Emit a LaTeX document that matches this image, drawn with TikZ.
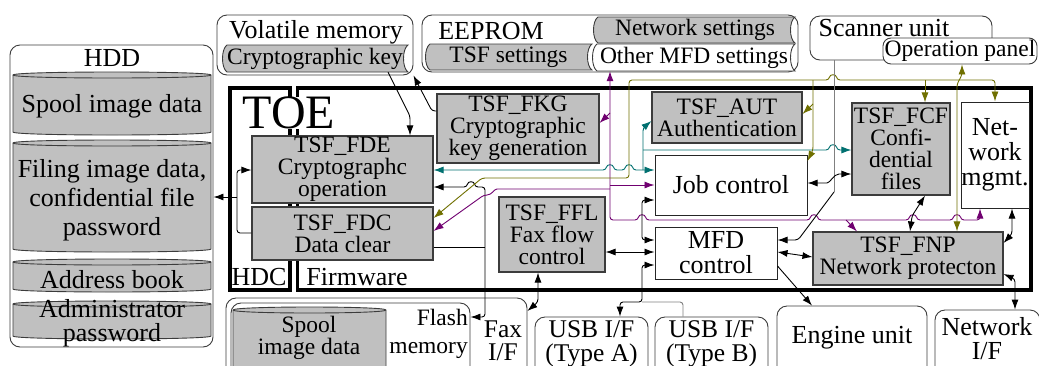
\documentclass[tikz,border=0pt]{standalone}
\usepackage{fontspec}
\setmainfont{Liberation Serif}
\usetikzlibrary{arrows.meta}
\definecolor{gfill}{RGB}{192,192,192}
\definecolor{tealc}{RGB}{0,112,112}
\definecolor{olivec}{RGB}{112,112,0}
\definecolor{purplec}{RGB}{112,0,112}
\definecolor{grayc}{RGB}{128,128,128}
\definecolor{edgec}{RGB}{60,60,60}
\newcommand\cylpath[4]{%
  \filldraw[draw=edgec, line width=0.9pt, fill=gfill] (#1,#2) .. controls (#1,#2-4) and (#3,#2-4) .. (#3,#2) -- (#3,#4) .. controls (#3,#4+4) and (#1,#4+4) .. (#1,#4) -- cycle;
  \draw[edgec, line width=0.9pt] (#1,#2) .. controls (#1,#2+4) and (#3,#2+4) .. (#3,#2);}
\newcommand\stpath[5]{%
  \filldraw[draw=edgec, line width=0.9pt, fill=#5] (#1+5,#2) -- (#3,#2) .. controls (#3-6,#2+4) and (#3-6,#4-4) .. (#3,#4) -- (#1+5,#4) .. controls (#1-1,#4-4) and (#1-1,#2+4) .. (#1+5,#2) -- cycle;}
\begin{document}
\begin{tikzpicture}[x=1pt,y=-1pt,
  fA/.style={font=\fontsize{26}{25}\selectfont},
  fB/.style={font=\fontsize{23.5}{22}\selectfont},
  gbox/.style={draw=edgec, line width=1.1pt, fill=gfill, align=center, inner sep=0pt, fB},
  wbox/.style={draw=black!85, line width=1pt, fill=white, align=center, inner sep=0pt, fA},
  rbox/.style={draw=edgec, line width=0.9pt, rounded corners=10pt, fill=white, inner sep=0pt},
  cont/.style={draw=black, line width=3.6pt, inner sep=0pt},
  lbl/.style={inner sep=0pt, align=center},
  conn/.style={line width=0.9pt, rounded corners=3pt},
  arw/.style={-{Latex[length=10pt,width=7pt]}},
  darw/.style={{Latex[length=10pt,width=7pt]}-{Latex[length=10pt,width=7pt]}}
]
\useasboundingbox (0,0) rectangle (1039,365);
\clip (0,0) rectangle (1039,365);
\fill[white] (0,0) rectangle (1039,365);

% ---- HDD ----
\node[rbox, minimum width=203pt, minimum height=302pt] (HDD) at (111.5,196) {};
\node[lbl,fA] (HDDt) at (112,58) {HDD};
\cylpath{13}{75}{211}{132}
\node[lbl,fA] (c1) at (112,106) {Spool image data};
\cylpath{13}{143}{211}{249}
\node[lbl,font=\fontsize{26}{29}\selectfont] (c2) at (112,200) {Filing image data,\\confidential file\\password};
\cylpath{13}{262}{211}{289}
\node[lbl,fA] (c3) at (112,280) {Address book};
\cylpath{13}{304}{211}{336}
\node[lbl,font=\fontsize{26}{24}\selectfont] (c4) at (112,323) {Administrator\\password};

% ---- Volatile memory ----
\node[rbox, minimum width=196pt, minimum height=60pt] (VM) at (315,45) {};
\node[lbl,fA] (VMt) at (316,32) {Volatile memory};
\stpath{222}{45}{408}{72}{gfill}
\node[lbl,fB,minimum width=186pt,minimum height=27pt] (key) at (315,58.5) {Cryptographic key};

% ---- EEPROM ----
\node[rbox, minimum width=376pt, minimum height=57pt] (EEP) at (610,43.5) {};
\node[lbl,fA] (EEPt) at (491,31) {EEPROM};
\stpath{425}{44}{592}{70}{gfill}
\node[lbl,fB,minimum width=167pt,minimum height=26pt] (TSFs) at (508.5,57) {TSF settings};
\stpath{593}{17}{795}{43}{gfill}
\node[lbl,fB,minimum width=202pt,minimum height=26pt] (NWs) at (695,30) {Network settings};
\stpath{592}{44}{795}{71}{white}
\node[lbl,fB,minimum width=203pt,minimum height=27pt] (OMFD) at (694,57.5) {Other MFD settings};

% ---- Scanner / operation panel ----
\node[rbox, minimum width=182pt, minimum height=44pt] (SU) at (901,38) {};
\node[lbl,fA] (SUt) at (884,28) {Scanner unit};
\node[rbox, rounded corners=8pt, minimum width=154pt, minimum height=26pt, fB] (OP) at (960,51) {Operation panel};

% ---- TOE containers ----
\node[cont, minimum width=60pt, minimum height=202pt] (HDC) at (260,189) {};
\node[cont, minimum width=733.5pt, minimum height=202pt] (FW) at (664.25,189) {};
\node[lbl,fill=white,font=\fontsize{48}{48}\selectfont] (TOE) at (289,113) {TOE};
\node[lbl,fA] (HDCt) at (259,277) {HDC};
\node[lbl,fA] (FWt) at (357,277) {Firmware};

% ---- function boxes ----
\node[gbox, minimum width=181pt, minimum height=67pt] (FDE) at (342.5,169.5) {TSF\_FDE\\Cryptographc\\operation};
\node[gbox, minimum width=181pt, minimum height=53pt] (FDC) at (342.5,233.5) {TSF\_FDC\\Data clear};
\node[gbox, minimum width=162pt, minimum height=69pt] (FKG) at (518,128.5) {TSF\_FKG\\Cryptographic\\key generation};
\node[gbox, minimum width=150pt, minimum height=51pt] (AUT) at (727,117.5) {TSF\_AUT\\Authentication};
\node[wbox, minimum width=152pt, minimum height=60pt] (Job) at (731,185) {Job control};
\node[gbox, minimum width=98pt, minimum height=92pt] (FCF) at (901,149) {TSF\_FCF\\Confi-\\dential\\files};
\node[wbox, minimum width=68pt, minimum height=106pt] (NM) at (995,155) {Net-\\work\\mgmt.};
\node[gbox, minimum width=106pt, minimum height=75pt] (FFL) at (552,234.5) {TSF\_FFL\\Fax flow\\control};
\node[wbox, minimum width=122pt, minimum height=52pt] (MFD) at (716,253) {MFD\\control};
\node[gbox, minimum width=190pt, minimum height=53pt] (FNP) at (908,258.5) {TSF\_FNP\\Network protecton};

% ---- bottom row ----
\node[rbox, minimum width=301pt, minimum height=92pt] (Fax) at (376.5,344) {};
\node[lbl,font=\fontsize{25.5}{23}\selectfont] (Faxt) at (503,341) {Fax\\I/F};
\node[rbox, minimum width=239pt, minimum height=82pt] (Flash) at (350.5,344) {};
\node[lbl,align=right,anchor=east,font=\fontsize{23.5}{28}\selectfont] (Flasht) at (468,334) {Flash\\memory};
\cylpath{233}{310}{386}{385}
\node[lbl,fB] (sp2) at (309,338) {Spool\\image data};
\node[rbox, minimum width=113pt, minimum height=73pt] (USBA) at (591.5,353.5) {};
\node[lbl,font=\fontsize{25.5}{23.5}\selectfont] (USBAt) at (591.5,344) {USB I/F\\(Type A)};
\node[rbox, minimum width=113pt, minimum height=73pt] (USBB) at (711.5,353.5) {};
\node[lbl,font=\fontsize{25.5}{23.5}\selectfont] (USBBt) at (711.5,344) {USB I/F\\(Type B)};
\node[rbox, minimum width=150pt, minimum height=84pt] (Eng) at (852,348) {};
\node[lbl,fA] (Engt) at (852,338) {Engine unit};
\node[rbox, minimum width=105pt, minimum height=80pt] (NetIF) at (987.5,350) {};
\node[lbl,font=\fontsize{26}{24}\selectfont] (NetIFt) at (987,339) {Network\\I/F};

% ---- black connectors (left) ----
\draw[conn,arw] (FDC.west |- 0,233) -- (237,233) -- (237,170) -- (FDE.west |- 0,170);
\draw[conn,arw] (237,197) -- (HDD.east |- 0,197);
\draw[conn,arw] (key.south -| 388,0) -- (410,116) -- (FDE.north -| 410,0);
\draw[conn,arw] (FKG.west |- 0,111) -- (432,111) -- (VM.south east);
\draw[conn,darw] (FDE.east |- 0,187) -- (467,187) .. controls (468,181) and (474,181) .. (475,187) -- (485,187) -- (485,317) -- (Flash.east |- 0,317);
\draw[conn] (FDC.east |- 0,247) -- (485,247);

% ---- teal ----
\draw[conn,tealc,darw] (FDE.east |- 0,170) -- (606,170) .. controls (607,164) and (613,164) .. (614,170) -- (625,170) .. controls (626,164) and (632,164) .. (633,170) -- (Job.west |- 0,170);
\draw[conn,tealc,arw] (643,170) -- (643,128) -- (AUT.west |- 0,121);
\draw[conn,tealc,arw] (643,150) -- (829,150) .. controls (830,144) and (836,144) .. (837,150) -- (FCF.west |- 0,150);

% ---- purple ----
\draw[conn,purplec,darw] (NM.south -| 980,0) -- (980,220) -- (961,220) .. controls (960,214) and (954,214) .. (953,220) -- (917,220) .. controls (916,214) and (910,214) .. (909,220) -- (818,220) .. controls (817,214) and (811,214) .. (810,220) -- (646,220) .. controls (645,214) and (639,214) .. (638,220) -- (610,220) -- (OMFD.south -| 610,0);
\draw[conn,purplec,arw] (846,220) -- (FNP.north -| 857,0);
\draw[conn,purplec,arw] (610,113) -- (FKG.east |- 0,123);
\draw[conn,purplec,arw] (610,185) -- (Job.west |- 0,185);
\draw[conn,purplec,arw] (610,189) -- (500,189) .. controls (494,189) and (492,195) .. (484,195) -- (FDC.east |- 0,231);

% ---- olive ----
\draw[conn,olivec,darw] (FDC.east |- 0,218) -- (482,178) -- (629,178) -- (629,80) -- (829,80) .. controls (830,74) and (836,74) .. (837,80) -- (995,80) -- (NM.north -| 995,0);
\draw[conn,olivec,arw] (813,80) -- (813,150) -- (Job.east |- 0,161);
\draw[conn,olivec,arw] (813,104) -- (AUT.east |- 0,114);
\draw[conn,olivec,arw] (925,80) -- (FCF.north -| 925,0);
\draw[conn,olivec,darw] (OP.south -| 962,0) -- (962,75) -- (957,84) -- (FNP.north -| 957,0);

% ---- scanner ----
\draw[conn,grayc] (SU.south -| 834,0) -- (834,192);
\draw[conn,arw] (834,192) -- (798,240) -- (MFD.east |- 0,240);

% ---- black connectors (right) ----
\draw[conn,darw] (Job.east |- 0,183) -- (824,183) .. controls (830,183) and (834,174) .. (842,174) -- (FCF.west |- 0,174);
\draw[conn,darw] (FCF.south -| 925,0) -- (912,216) -- (FNP.north -| 910,0);
\draw[conn,darw] (NM.south -| 1012,0) -- (1012,234) -- (FNP.east |- 0,243);
\draw[conn,darw] (FNP.east |- 0,274) -- (1015,279) -- (NetIF.north -| 1015,0);
\draw[conn,darw] (MFD.east |- 0,252) -- (FNP.west |- 0,257);
\draw[conn,arw] (MFD.east |- 0,266) -- (Eng.north -| 812,0);
\draw[conn,darw] (FFL.east |- 0,252) -- (MFD.west |- 0,252);
\draw[conn,darw] (Job.west |- 0,200) -- (642,200) -- (642,240) -- (MFD.west |- 0,240);
\draw[conn,darw] (MFD.west |- 0,265) -- (642,265) -- (642,302) -- (620,302) -- (USBA.north -| 620,0);
\draw[conn,grayc] (642,302) -- (683,302) -- (USBB.north -| 683,0);
\draw[conn,darw] (FFL.south -| 538,0) -- (538,302) -- (Fax.east |- 0,311);
\end{tikzpicture}
\end{document}
